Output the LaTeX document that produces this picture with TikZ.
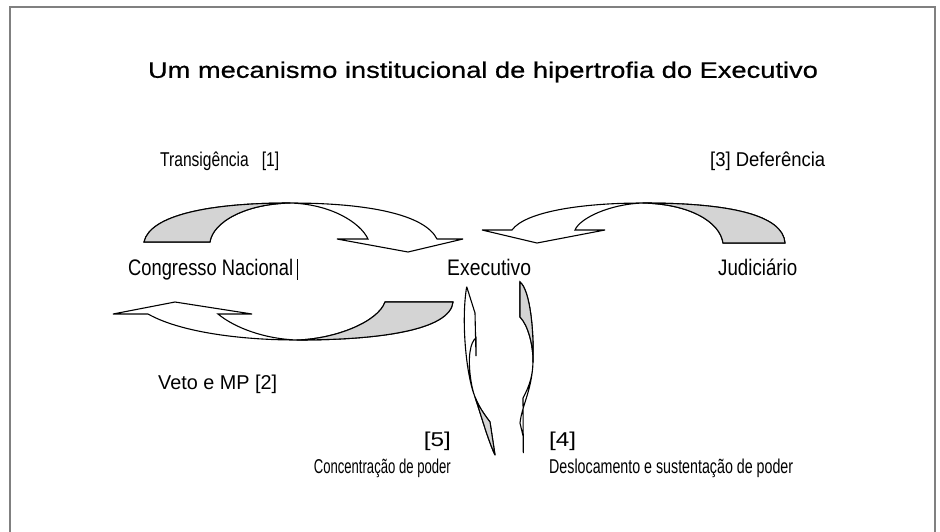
\documentclass[tikz,border=0pt]{standalone}
\usepackage{fontspec}
\usepackage{graphicx}
\setmainfont{Liberation Sans}
\newfontfamily\titlefont[FakeBold=0.6]{Liberation Sans}
\newfontfamily\lblfont{Liberation Sans}
\definecolor{shadegray}{RGB}{212,212,212}
\definecolor{framegray}{RGB}{128,128,128}
% scale the width only, keep the font's height
\newcommand{\fitw}[2]{\resizebox{#1pt}{\height}{#2}}
\tikzset{
  arrowbody/.style={draw=black, line width=1.1pt, fill=white, line join=miter, miter limit=4},
  arrowback/.style={draw=black, line width=1.1pt, fill=shadegray, line join=round},
  lbl/.style={inner sep=0pt, anchor=base west, font=\lblfont\fontsize{20}{24}\selectfont},
  nodelbl/.style={inner sep=0pt, anchor=base west, font=\lblfont\fontsize{22.5}{26}\selectfont},
  framestyle/.style={draw=framegray, line width=2.2pt},
}
\begin{document}
\begin{tikzpicture}[x=1pt,y=-1pt]
\useasboundingbox (0,0) rectangle (940,531);
% frame
\draw[framestyle] (10,532) -- (10,7) -- (935,7) -- (935,532);

% title
\node[inner sep=0pt, anchor=center, font=\titlefont\fontsize{22.5}{26}\selectfont] (title) at (483,72) {\fitw{670}{Um mecanismo institucional de hipertrofia do Executivo}};

% labels
\node[lbl] (l1) at (160,166) {\fitw{119}{Transigência\ \ \ [1]}};
\node[lbl] (l3) at (710,166) {\fitw{115}{[3] Deferência}};
\node[nodelbl] (cn) at (128,275) {\fitw{165}{Congresso Nacional}};
\node[nodelbl] (ex) at (447,275) {\fitw{84}{Executivo}};
\node[nodelbl] (ju) at (718,275) {\fitw{79}{Judiciário}};
\node[lbl] (l2) at (158,389) {\fitw{119}{Veto e MP [2]}};
\node[lbl, anchor=base east] (l5) at (451,446) {\fitw{27}{[5]}};
\node[lbl, anchor=base east] (c5) at (451,473) {\fitw{137}{Concentração de poder}};
\node[lbl] (l4) at (549,446) {\fitw{27}{[4]}};
\node[lbl] (c4) at (549,473) {\fitw{244}{Deslocamento e sustentação de poder}};
\coordinate (cur1) at (297,259);
\coordinate (cur2) at (297,280);
\draw[line width=0.9pt] (cur1) -- (cur2);

% arrow [1] : Congresso -> Executivo (curved down)
\draw[arrowbody] (368,239) -- (337,239) -- (408,252) -- (463,239) -- (437,239)
  .. controls (425,215) and (370,203) .. (290,203)
  .. controls (210,203) and (150,215) .. (144,242)
  -- (210,242)
  .. controls (213,222) and (245,204) .. (290,203)
  .. controls (330,204) and (360,222) .. (368,239) -- cycle;
\draw[arrowback] (144,242) .. controls (150,215) and (210,203) .. (290,203)
  .. controls (245,204) and (213,222) .. (210,242) -- cycle;

% arrow [3] : Judiciario -> Executivo
\draw[arrowbody] (575,230) -- (605,230) -- (537,243) -- (482,230) -- (512,230)
  .. controls (525,212) and (580,203) .. (643,203)
  .. controls (730,203) and (783,215) .. (785,243)
  -- (723,243)
  .. controls (720,222) and (690,204) .. (643,203)
  .. controls (610,204) and (580,218) .. (575,230) -- cycle;
\draw[arrowback] (785,243) .. controls (783,215) and (730,203) .. (643,203)
  .. controls (690,204) and (720,222) .. (723,243) -- cycle;

% arrow [2] : Executivo -> Congresso (curved up)
\draw[arrowbody] (218,314) -- (252,314) -- (175,302) -- (113,314) -- (148,314)
  .. controls (180,332) and (240,340) .. (297,340)
  .. controls (380,340) and (450,330) .. (453,302)
  -- (385,302)
  .. controls (378,322) and (335,339) .. (297,340)
  .. controls (265,339) and (235,328) .. (218,314) -- cycle;
\draw[arrowback] (453,302) .. controls (450,330) and (380,340) .. (297,340)
  .. controls (335,339) and (378,322) .. (385,302) -- cycle;

% arrow [5] (left vertical)
\draw[arrowbody] (476,338) -- (476,356) -- (475,313) -- (466.7,286.7)
  .. controls (461,320) and (466,375) .. (475,397)
  .. controls (481,415) and (488,440) .. (495,455)
  -- (490,422)
  .. controls (484,414) and (479,407) .. (475,397)
  .. controls (471,387) and (468,365) .. (470,352)
  .. controls (471,345) and (473,340) .. (476,338) -- cycle;
\draw[arrowback] (475,397) .. controls (481,415) and (488,440) .. (495,455)
  -- (490,422) .. controls (484,414) and (479,407) .. (475,397) -- cycle;

% arrow [4] (right vertical)
\draw[arrowbody] (520,282) .. controls (530,290) and (534,330) .. (533,362)
  .. controls (532,390) and (522,405) .. (520,423)
  -- (523.3,437) -- (523.3,453) -- (523,398)
  .. controls (530,385) and (532.7,375) .. (533,362)
  .. controls (533.3,345) and (528,325) .. (520,317) -- cycle;
\draw[arrowback] (520,282) .. controls (530,290) and (534,330) .. (533,362)
  .. controls (533.3,345) and (528,325) .. (520,317) -- cycle;
\end{tikzpicture}
\end{document}
